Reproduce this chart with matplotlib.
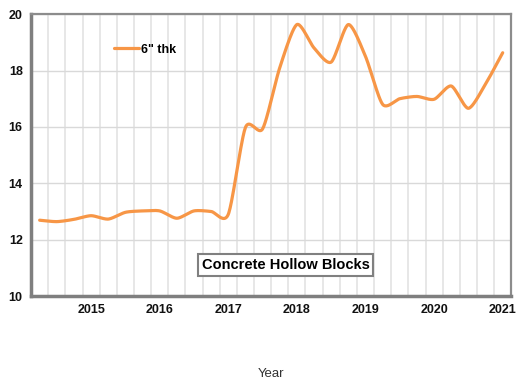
import numpy as np
from matplotlib import pyplot as plt

plt.rcParams['font.family'] = ['Liberation Sans', 'DejaVu Sans']

# Quarterly price, 2014 Q2 .. 2021 Q1
quarters = np.arange(28)
price_6thk = [12.69, 12.64, 12.72, 12.85, 12.73, 12.97, 13.02, 13.02,
              12.76, 13.02, 13.00, 12.90, 15.98, 15.93, 18.10, 19.63,
              18.80, 18.30, 19.63, 18.50, 16.80, 17.00, 17.08, 16.98,
              17.45, 16.66, 17.52, 18.63]
year_pos = [3, 7, 11, 15, 19, 23, 27]
year_labels = ['2015', '2016', '2017', '2018', '2019', '2020', '2021']


def smooth(x, y, tension=0.38, n=24):
    # cardinal spline through the points (smoothed line)
    x = np.asarray(x, float)
    y = np.asarray(y, float)
    t = np.linspace(0, 1, n, endpoint=False)
    h00 = 2 * t**3 - 3 * t**2 + 1
    h10 = t**3 - 2 * t**2 + t
    h01 = -2 * t**3 + 3 * t**2
    h11 = t**3 - t**2

    def tangents(p):
        m = np.empty_like(p)
        m[1:-1] = tension * (p[2:] - p[:-2])
        m[0] = 2 * tension * (p[1] - p[0])
        m[-1] = 2 * tension * (p[-1] - p[-2])
        return m

    mx, my = tangents(x), tangents(y)
    xs, ys = [], []
    for i in range(len(x) - 1):
        xs.append(h00 * x[i] + h10 * mx[i] + h01 * x[i + 1] + h11 * mx[i + 1])
        ys.append(h00 * y[i] + h10 * my[i] + h01 * y[i + 1] + h11 * my[i + 1])
    xs.append([x[-1]])
    ys.append([y[-1]])
    return np.concatenate(xs), np.concatenate(ys)


fig = plt.figure(figsize=(5.18, 3.82), dpi=100)
ax = fig.add_axes([0.060, 0.225, 0.927, 0.738])

sx, sy = smooth(quarters, price_6thk)
ax.plot(sx, sy, color='#F79646', linewidth=2.3, label='6" thk',
        solid_capstyle='round', zorder=3)

ax.set_xlim(-0.5, 27.5)
ax.set_ylim(10, 20)
ax.set_yticks(np.arange(10, 21, 2))
ax.set_xticks(year_pos)
ax.set_xticklabels(year_labels)
ax.set_xticks(np.arange(0.5, 27, 1), minor=True)

ax.grid(True, axis='y', color='#d9d9d9', linewidth=1)
ax.grid(True, axis='x', which='minor', color='#e3e3e3', linewidth=1.2)
ax.tick_params(which='both', length=0)
ax.tick_params(axis='both', labelsize=9, colors='#111111', pad=6)
for lbl in ax.get_xticklabels() + ax.get_yticklabels():
    lbl.set_fontweight('bold')

for side in ('left', 'bottom'):
    ax.spines[side].set_color('#7f7f7f')
    ax.spines[side].set_linewidth(2.5)
for side in ('top', 'right'):
    ax.spines[side].set_color('#8c8c8c')
    ax.spines[side].set_linewidth(1.6)

ax.set_xlabel('Year', fontsize=9.5, color='#333333', labelpad=37)

leg = ax.legend(loc='upper left', bbox_to_anchor=(0.15, 0.935), frameon=False,
                handlelength=2.0, handletextpad=0.1,
                prop={'weight': 'bold', 'size': 9})

ax.text(14.35, 11.1, 'Concrete Hollow Blocks', ha='center', va='center',
        fontsize=10.5, fontweight='bold',
        bbox=dict(boxstyle='square,pad=0.25', facecolor='white',
                  edgecolor='#808080', linewidth=1.5))

fig.savefig('out.png', dpi=100)
